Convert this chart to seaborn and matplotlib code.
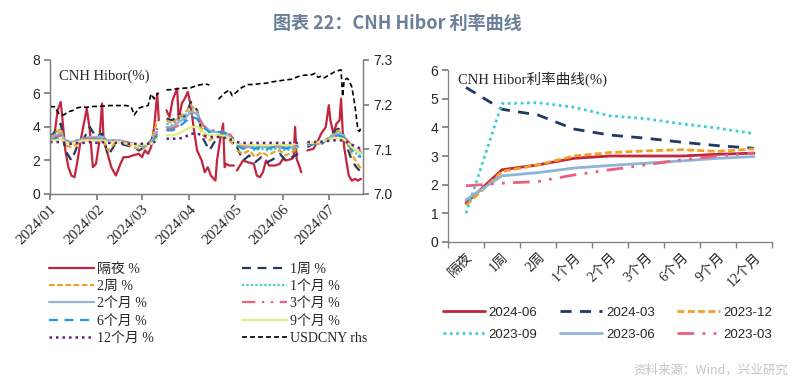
import numpy as np
import pandas as pd
import matplotlib
matplotlib.use("Agg")
import matplotlib.pyplot as plt
import matplotlib.dates as mdates
from matplotlib.font_manager import FontProperties
import seaborn as sns

nan = np.nan

# === Left panel: CNH Hibor fixings (%) and USDCNY (rhs) === #
tenor_dates = [
    "2024-01-01", "2024-01-05", "2024-01-08", "2024-01-11", "2024-01-15", "2024-01-19", "2024-01-23", "2024-01-27", "2024-01-31",
    "2024-02-04", "2024-02-08", "2024-02-12", "2024-02-16", "2024-02-20", "2024-02-24", "2024-02-28",
    "2024-03-03", "2024-03-07", "2024-03-11", "2024-03-14", "2024-03-17", "2024-03-21", "2024-03-25", "2024-03-29",
    "2024-04-02", "2024-04-06", "2024-04-10", "2024-04-14", "2024-04-18", "2024-04-22", "2024-04-26", "2024-04-30",
    "2024-05-01", "2024-05-02", "2024-05-06", "2024-05-10", "2024-05-14", "2024-05-18", "2024-05-22", "2024-05-26", "2024-05-30",
    "2024-06-03", "2024-06-07", "2024-06-11", "2024-06-14", "2024-06-17", "2024-06-21", "2024-06-25", "2024-06-29",
    "2024-07-03", "2024-07-07", "2024-07-10", "2024-07-13", "2024-07-16", "2024-07-19", "2024-07-22",
]
hibor_1w = [3.4, 3.8, 4.2, 2.6, 2.0, 2.9, 3.3, 4.0, 3.4,
            3.6, 2.3, 2.9, 3.0, 2.9, 2.8, 2.6,
            2.8, 3.2, 3.9, nan, 4.5, 4.4, 4.8, 4.6,
            5.5, 5.0, 3.3, 2.6, 3.2, 3.5, 3.4, 3.0,
            nan, 2.8, 2.0, 2.3, 1.9, 2.2, 1.9, 2.1, 2.4,
            2.0, 2.2, 2.4, nan, 2.8, 3.0, 2.9, 3.2,
            3.6, 3.9, 3.7, 2.8, 2.0, 1.6, 1.3]
hibor_2w = [3.3, 3.7, 3.9, 2.9, 2.8, 3.0, 3.2, 3.4, 3.3,
            3.3, 2.6, 3.0, 3.1, 3.0, 2.8, 2.7,
            2.8, 3.1, 4.4, nan, 4.4, 4.2, 4.6, 4.8,
            5.3, 4.9, 3.5, 3.2, 3.4, 3.6, 3.3, 2.9,
            nan, 2.6, 2.4, 2.6, 2.2, 2.5, 2.3, 2.5, 2.6,
            2.3, 2.5, 2.8, nan, 2.9, 3.0, 3.0, 3.2,
            3.5, 3.8, 3.5, 3.0, 2.4, 1.9, 1.5]
hibor_1m = [3.4, 3.6, 3.7, 3.1, 3.0, 3.2, 3.3, 3.4, 3.4,
            3.5, 3.1, 3.2, 3.2, 3.1, 3.0, 2.9,
            2.9, 3.1, 3.8, nan, 4.2, 4.1, 4.4, 4.7,
            5.0, 4.8, 4.0, 3.7, 3.7, 3.7, 3.5, 3.1,
            nan, 2.9, 2.7, 2.8, 2.6, 2.7, 2.6, 2.7, 2.7,
            2.6, 2.7, 2.8, nan, 2.9, 3.0, 3.0, 3.2,
            3.5, 3.7, 3.6, 3.2, 2.7, 2.4, 2.3]
hibor_2m = [3.3, 3.5, 3.6, 3.2, 3.1, 3.2, 3.3, 3.4, 3.4,
            3.4, 3.2, 3.2, 3.2, 3.1, 3.0, 2.9,
            2.9, 3.1, 3.7, nan, 4.0, 4.0, 4.3, 4.5,
            4.9, 4.8, 4.1, 3.8, 3.7, 3.7, 3.6, 3.2,
            nan, 3.0, 2.8, 2.8, 2.8, 2.8, 2.8, 2.8, 2.8,
            2.8, 2.8, 2.8, nan, 3.0, 3.0, 3.1, 3.2,
            3.4, 3.6, 3.5, 3.2, 2.8, 2.6, 2.5]
hibor_3m = [3.2, 3.4, 3.5, 3.2, 3.1, 3.2, 3.3, 3.3, 3.3,
            3.4, 3.2, 3.2, 3.1, 3.1, 3.0, 2.9,
            2.9, 3.1, 3.6, nan, 3.9, 3.9, 4.1, 4.4,
            4.7, 4.7, 4.1, 3.8, 3.8, 3.8, 3.7, 3.3,
            nan, 3.0, 2.9, 2.9, 2.9, 2.9, 2.9, 2.9, 2.9,
            2.9, 2.9, 2.9, nan, 3.0, 3.0, 3.1, 3.2,
            3.4, 3.5, 3.4, 3.2, 2.9, 2.7, 2.6]
hibor_6m = [3.2, 3.3, 3.4, 3.1, 3.0, 3.1, 3.2, 3.3, 3.2,
            3.3, 3.1, 3.1, 3.1, 3.0, 3.0, 2.9,
            2.9, 3.0, 3.5, nan, 3.8, 3.8, 4.0, 4.3,
            4.6, 4.5, 4.0, 3.7, 3.7, 3.7, 3.6, 3.2,
            nan, 2.9, 2.7, 2.8, 2.7, 2.8, 2.7, 2.8, 2.8,
            2.7, 2.8, 2.9, nan, 3.0, 3.0, 3.0, 3.2,
            3.3, 3.5, 3.4, 3.1, 2.6, 2.3, 2.2]
hibor_9m = [3.2, 3.2, 3.3, 3.1, 3.0, 3.1, 3.2, 3.2, 3.2,
            3.2, 3.1, 3.1, 3.1, 3.0, 3.0, 2.95,
            2.95, 3.0, 3.3, nan, 3.5, 3.5, 3.6, 3.8,
            4.0, 4.0, 3.7, 3.5, 3.5, 3.5, 3.4, 3.2,
            nan, 3.0, 2.95, 2.95, 2.9, 2.95, 2.9, 2.95, 2.95,
            2.9, 2.95, 3.0, nan, 3.05, 3.05, 3.1, 3.2,
            3.3, 3.35, 3.3, 3.1, 2.8, 2.6, 2.4]
hibor_12m = [3.1, 3.1, 3.1, 3.05, 3.0, 3.05, 3.05, 3.1, 3.05,
             3.1, 3.05, 3.05, 3.05, 3.0, 3.0, 3.0,
             3.0, 3.0, 3.2, nan, 3.3, 3.3, 3.3, 3.4,
             3.6, 3.6, 3.5, 3.4, 3.4, 3.4, 3.3, 3.2,
             nan, 3.1, 3.05, 3.05, 3.05, 3.05, 3.05, 3.05, 3.05,
             3.05, 3.05, 3.05, nan, 3.1, 3.1, 3.1, 3.15,
             3.2, 3.2, 3.2, 3.1, 2.95, 2.8, 2.7]

on_dates = [
    "2024-01-01", "2024-01-04", "2024-01-06", "2024-01-08", "2024-01-09", "2024-01-11", "2024-01-13", "2024-01-15",
    "2024-01-17", "2024-01-19", "2024-01-21", "2024-01-25", "2024-01-27", "2024-01-29", "2024-01-31",
    "2024-02-02", "2024-02-04", "2024-02-05", "2024-02-07", "2024-02-10", "2024-02-13", "2024-02-16", "2024-02-18",
    "2024-02-21", "2024-02-24", "2024-02-28",
    "2024-03-01", "2024-03-03", "2024-03-05", "2024-03-07", "2024-03-09", "2024-03-11", "2024-03-12", "2024-03-14",
    "2024-03-17", "2024-03-19", "2024-03-21", "2024-03-24", "2024-03-25", "2024-03-27", "2024-03-29", "2024-03-31",
    "2024-04-02", "2024-04-04", "2024-04-06", "2024-04-09", "2024-04-11", "2024-04-13", "2024-04-15", "2024-04-18",
    "2024-04-19", "2024-04-21", "2024-04-23", "2024-04-24", "2024-04-25", "2024-04-27", "2024-04-30",
    "2024-05-01", "2024-05-02", "2024-05-04", "2024-05-06", "2024-05-09", "2024-05-13", "2024-05-15", "2024-05-17",
    "2024-05-19", "2024-05-21", "2024-05-23", "2024-05-27", "2024-05-30",
    "2024-06-01", "2024-06-03", "2024-06-07", "2024-06-08", "2024-06-09", "2024-06-10", "2024-06-12", "2024-06-13",
    "2024-06-15", "2024-06-17", "2024-06-21", "2024-06-24", "2024-06-26", "2024-06-29",
    "2024-07-01", "2024-07-02", "2024-07-04", "2024-07-06", "2024-07-08", "2024-07-09", "2024-07-10", "2024-07-11",
    "2024-07-14", "2024-07-16", "2024-07-18", "2024-07-20", "2024-07-22",
]
hibor_on = [3.2, 3.6, 5.0, 5.5, 4.6, 2.6, 1.6, 1.1, 1.0, 2.0, 3.2, 5.1, 3.8, 1.6, 1.8,
            3.0, 5.4, 3.2, 2.6, 1.6, 1.1, 1.8, 2.2, 2.2, 2.3, 2.4,
            2.2, 2.6, 2.4, 2.8, 4.0, 6.0, 4.4, nan, 5.0, 4.6, 5.6, 6.3, 4.4, 5.4, 5.7, 6.1,
            5.2, 3.8, 2.6, 2.0, 1.3, 1.6, 1.1, 0.8, 2.0, 3.2, 4.2, 1.6, 1.8, 1.7, 1.7,
            nan, 1.4, 1.7, 2.0, 1.9, 1.8, 1.1, 1.0, 1.3, 2.0, 1.7, 1.7, 1.8,
            2.1, 2.0, 2.1, 2.2, 4.0, 2.1, 1.6, 1.3, nan, 2.6, 2.7, 3.2, 3.6, 4.0,
            5.3, 4.4, 3.6, 4.2, 4.4, 5.7, 3.8, 2.8, 1.1, 0.8, 0.9, 0.8, 0.9]

fx_dates = [
    "2024-01-01", "2024-01-04", "2024-01-07", "2024-01-10", "2024-01-13", "2024-01-16", "2024-01-19", "2024-01-22",
    "2024-01-25", "2024-01-29",
    "2024-02-02", "2024-02-06", "2024-02-09", "2024-02-13", "2024-02-16", "2024-02-20", "2024-02-23", "2024-02-25",
    "2024-02-28",
    "2024-03-02", "2024-03-05", "2024-03-07", "2024-03-09", "2024-03-11", "2024-03-12", "2024-03-14", "2024-03-17",
    "2024-03-21", "2024-03-25", "2024-03-29",
    "2024-04-02", "2024-04-06", "2024-04-09", "2024-04-12", "2024-04-14", "2024-04-15", "2024-04-20", "2024-04-22",
    "2024-04-24", "2024-04-27", "2024-04-29",
    "2024-05-02", "2024-05-05", "2024-05-09", "2024-05-13", "2024-05-17", "2024-05-21", "2024-05-25", "2024-05-29",
    "2024-06-02", "2024-06-07", "2024-06-11", "2024-06-15", "2024-06-19", "2024-06-22", "2024-06-24", "2024-06-26",
    "2024-06-28",
    "2024-07-02", "2024-07-05", "2024-07-09", "2024-07-10", "2024-07-11", "2024-07-13", "2024-07-14", "2024-07-16",
    "2024-07-18", "2024-07-20", "2024-07-21", "2024-07-22",
]
usdcny = [7.196, 7.195, 7.179, 7.177, 7.184, 7.187, 7.193, 7.195, 7.194, 7.196,
          7.196, 7.197, 7.198, 7.198, 7.198, 7.198, 7.195, 7.177, 7.192,
          7.196, 7.198, 7.224, 7.213, 7.224, 7.226, nan, 7.233, 7.234, 7.236, 7.237,
          7.238, 7.243, 7.245, 7.246, 7.244, nan, 7.212, 7.219, 7.226, 7.233, 7.220,
          7.229, 7.238, 7.245, 7.245, 7.247, 7.248, 7.251, 7.253,
          7.255, 7.257, 7.263, 7.266, 7.266, 7.270, 7.261, 7.264, 7.260,
          7.268, 7.274, 7.278, 7.218, 7.255, 7.259, 7.255, 7.240, 7.199, 7.143, 7.140, 7.150]

# === Right panel: CNH Hibor curve snapshots (%) === #
curve_tenors = ["隔夜", "1周", "2周", "1个月", "2个月", "3个月", "6个月", "9个月", "12个月"]
curve_2024_06 = [1.36, 2.52, 2.69, 2.92, 3.0, 3.0, 3.0, 3.06, 3.1]
curve_2024_03 = [5.39, 4.63, 4.43, 3.94, 3.73, 3.62, 3.48, 3.36, 3.27]
curve_2023_12 = [1.28, 2.46, 2.69, 3.0, 3.12, 3.18, 3.22, 3.16, 3.25]
curve_2023_09 = [1.0, 4.83, 4.86, 4.7, 4.4, 4.3, 4.12, 3.97, 3.78]
curve_2023_06 = [1.47, 2.31, 2.42, 2.58, 2.67, 2.75, 2.83, 2.92, 2.98]
curve_2023_03 = [1.96, 2.05, 2.11, 2.34, 2.52, 2.69, 2.87, 3.0, 3.1]

# === Style === #
sns.set_theme(style="white")
plt.rcParams["font.family"] = ["Liberation Sans", "Noto Sans CJK SC"]
plt.rcParams["axes.unicode_minus"] = False
serif = ["Liberation Serif", "Noto Sans CJK SC"]
grey = "#7f7f7f"

RED, NAVY, ORANGE, CYAN = "#c2253d", "#1f3864", "#f0a024", "#3fcfd2"
LBLUE, PINK, BLUE, LIME, PURPLE = "#8fb4da", "#ea6180", "#1f9ad8", "#e2ef7c", "#5a1e8c"


def draw_series(axis, dates, values, label, color, ls, lw):
    s = pd.Series(values, index=pd.to_datetime(dates), dtype=float)
    first = True
    for _, part in s.groupby(s.isna().cumsum()):
        part = part.dropna()
        if part.empty:
            continue
        kw = {"label": label} if first else {}
        sns.lineplot(x=part.index, y=part.values, ax=axis, color=color,
                     linestyle=ls, lw=lw, legend=False, **kw)
        first = False


fig = plt.figure(figsize=(8, 3.9), dpi=100)

# === Left chart === #
ax = fig.add_axes([0.0625, 0.5026, 0.3913, 0.3436])
ax2 = ax.twinx()

draw_series(ax, on_dates, hibor_on, "隔夜 %", RED, "-", 1.6)
draw_series(ax, tenor_dates, hibor_1w, "1周 %", NAVY, (0, (4, 3)), 1.6)
draw_series(ax, tenor_dates, hibor_2w, "2周 %", ORANGE, (0, (2.5, 1.2)), 1.6)
draw_series(ax, tenor_dates, hibor_1m, "1个月 %", CYAN, (0, (1, 1)), 1.6)
draw_series(ax, tenor_dates, hibor_2m, "2个月 %", LBLUE, "-", 1.6)
draw_series(ax, tenor_dates, hibor_3m, "3个月 %", PINK, (0, (6, 3, 1, 3, 1, 3)), 1.6)
draw_series(ax, tenor_dates, hibor_6m, "6个月 %", BLUE, (0, (4, 3)), 1.6)
draw_series(ax, tenor_dates, hibor_9m, "9个月 %", LIME, "-", 1.6)
draw_series(ax, tenor_dates, hibor_12m, "12个月 %", PURPLE, (0, (1, 1.6)), 1.8)
draw_series(ax2, fx_dates, usdcny, "USDCNY rhs", "black", (0, (3, 1.8)), 1.2)

ax.set_xlim(pd.Timestamp("2024-01-01"), pd.Timestamp("2024-07-23 08:00"))
ax.set_ylim(0, 8)
ax.set_yticks([0, 2, 4, 6, 8])
ax2.set_ylim(7.0, 7.3)
ax2.set_yticks([7.0, 7.1, 7.2, 7.3])
ax2.set_yticklabels(["7.0", "7.1", "7.2", "7.3"])
ax.xaxis.set_major_locator(mdates.MonthLocator())
ax.xaxis.set_major_formatter(mdates.DateFormatter("%Y/%m"))
for a in (ax, ax2):
    a.set_xlabel("")
    a.set_ylabel("")
    for side in a.spines:
        a.spines[side].set_visible(side in ("left", "right", "bottom"))
        a.spines[side].set_color(grey)
        a.spines[side].set_linewidth(0.9)
ax.tick_params(axis="y", left=True, direction="out", length=4, color=grey, labelsize=10, pad=3)
ax2.tick_params(axis="y", right=True, direction="out", length=4, color=grey, labelsize=10, pad=3)
ax.tick_params(axis="x", bottom=True, direction="out", length=4, color=grey, pad=2)
for lab in ax.get_xticklabels():
    lab.set_rotation(45)
    lab.set_ha("right")
    lab.set_rotation_mode("anchor")
    lab.set_fontfamily(serif)
    lab.set_fontsize(11)
ax.text(0.03, 0.93, "CNH Hibor(%)", transform=ax.transAxes, ha="left", va="top",
        fontsize=10.5, family=serif)

h1, l1 = ax.get_legend_handles_labels()
h2, l2 = ax2.get_legend_handles_labels()
lut = dict(zip(l1 + l2, h1 + h2))
left_order = ["隔夜 %", "2周 %", "2个月 %", "6个月 %", "12个月 %",
              "1周 %", "1个月 %", "3个月 %", "9个月 %", "USDCNY rhs"]
fig.legend([lut[k] for k in left_order], left_order, ncol=2, loc="upper left",
           bbox_to_anchor=(0.052, 1 - 256 / 390), frameon=False,
           prop=FontProperties(family=serif, size=10), handlelength=3.3,
           handletextpad=0.2, columnspacing=6.3, labelspacing=0.3, borderpad=0)

# === Right chart === #
ax3 = fig.add_axes([0.56, 0.3795, 0.405, 0.441])
pos = np.arange(len(curve_tenors))
curves = [
    ("2024-06", curve_2024_06, RED, "-"),
    ("2024-03", curve_2024_03, NAVY, (0, (4, 3))),
    ("2023-12", curve_2023_12, ORANGE, (0, (2.5, 1.2))),
    ("2023-09", curve_2023_09, CYAN, (0, (1, 1.3))),
    ("2023-06", curve_2023_06, LBLUE, "-"),
    ("2023-03", curve_2023_03, PINK, (0, (6, 3, 1, 3, 1, 3))),
]
for name, vals, col, ls in curves:
    sns.lineplot(x=pos, y=vals, ax=ax3, color=col, linestyle=ls, lw=2.0,
                 label=name, legend=False)

ax3.set_xlim(-0.5, len(curve_tenors) - 0.5)
ax3.set_ylim(0, 6)
ax3.set_yticks(range(0, 7))
ax3.set_xticks(pos)
ax3.set_xticklabels(curve_tenors, rotation=45, ha="right", rotation_mode="anchor",
                    fontsize=10, family=serif)
ax3.set_xticks(np.arange(-0.5, len(curve_tenors)), minor=True)
ax3.tick_params(axis="x", which="major", length=0, pad=6)
ax3.tick_params(axis="x", which="minor", bottom=True, direction="out", length=4, color=grey)
ax3.tick_params(axis="y", left=True, direction="out", length=4, color=grey, labelsize=10, pad=3)
ax3.set_xlabel("")
ax3.set_ylabel("")
for side in ax3.spines:
    ax3.spines[side].set_visible(side in ("left", "bottom"))
    ax3.spines[side].set_color(grey)
    ax3.spines[side].set_linewidth(0.9)
ax3.text(0.03, 0.99, "CNH Hibor利率曲线(%)", transform=ax3.transAxes, ha="left", va="top",
         fontsize=10.5, family=serif)

h3, l3 = ax3.get_legend_handles_labels()
lut3 = dict(zip(l3, h3))
right_order = ["2024-06", "2023-09", "2024-03", "2023-06", "2023-12", "2023-03"]
fig.legend([lut3[k] for k in right_order], right_order, ncol=3, loc="upper left",
           bbox_to_anchor=(0.545, 1 - 300 / 390), frameon=False,
           prop=FontProperties(family="Liberation Sans", size=9.5), handlelength=3.2,
           handletextpad=0.3, columnspacing=1.7, labelspacing=0.75, borderpad=0)

# === Title and source === #
fig.text(0.497, 0.94, "图表 22：CNH Hibor 利率曲线", ha="center", va="center",
         fontsize=13, fontweight="bold", color="#6c7f99", family=["Noto Sans CJK SC"])
fig.text(0.985, 0.05, "资料来源：Wind，兴业研究", ha="right", va="center",
         fontsize=9, color="#c4c4c4", family=["Noto Sans CJK SC"])

fig.savefig("out.png", dpi=100, facecolor="white")
plt.close(fig)
